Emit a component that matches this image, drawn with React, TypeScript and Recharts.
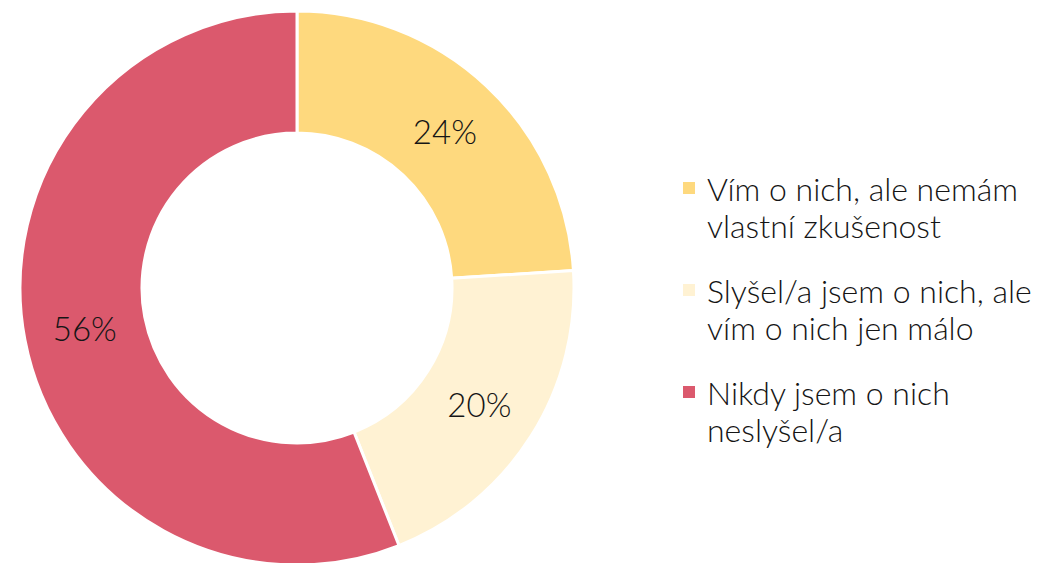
import React from 'react';
import { PieChart, Pie, Cell, Legend } from 'recharts';

const categories = [
  'Vím o nich, ale nemám vlastní zkušenost',
  'Slyšel/a jsem o nich, ale vím o nich jen málo',
  'Nikdy jsem o nich neslyšel/a',
];
const legendLines = [
  ['Vím o nich, ale nemám', 'vlastní zkušenost'],
  ['Slyšel/a jsem o nich, ale', 'vím o nich jen málo'],
  ['Nikdy jsem o nich', 'neslyšel/a'],
];
const values = [24, 20, 56];
const colors = ['#FED97E', '#FFF2D3', '#DB596D'];

const data = categories.map((name, i) => ({ name, value: values[i] }));

const FONT = 'Lato, "Open Sans", sans-serif';
const RAD = Math.PI / 180;

function renderLabel(props: any) {
  const { cx, cy, midAngle, innerRadius, outerRadius, value } = props;
  const r = (innerRadius + outerRadius) / 2;
  const x = cx + r * Math.cos(-midAngle * RAD);
  const y = cy + r * Math.sin(-midAngle * RAD);
  return (
    <text x={x} y={y} fill="#151515" textAnchor="middle" dominantBaseline="central"
      style={{ fontFamily: FONT, fontSize: 33, fontWeight: 300 }}>
      {value}%
    </text>
  );
}

function LegendContent() {
  return (
    <div style={{ fontFamily: FONT, fontSize: 32, fontWeight: 300, color: '#151515', lineHeight: '37px' }}>
      {legendLines.map((lines, i) => (
        <div key={i} style={{ position: 'relative', paddingLeft: 24, marginBottom: i < 2 ? 28 : 0 }}>
          <span style={{
            position: 'absolute', left: 0, top: 12, width: 12, height: 12, background: colors[i],
          }} />
          {lines.map((t, j) => <div key={j} style={{ whiteSpace: 'nowrap' }}>{t}</div>)}
        </div>
      ))}
    </div>
  );
}

export default function App() {
  return (
    <div style={{ position: 'absolute', left: 0, top: 0, width: 1038, height: 563, background: '#fff' }}>
      <PieChart width={1038} height={563} margin={{ top: 0, right: 0, bottom: 0, left: 0 }}>
        <Pie
          data={data}
          dataKey="value"
          nameKey="name"
          cx={297}
          cy={288}
          innerRadius={155}
          outerRadius={277}
          startAngle={90}
          endAngle={-270}
          stroke="#fff"
          strokeWidth={3}
          label={renderLabel}
          labelLine={false}
          isAnimationActive={false}
        >
          {data.map((d, i) => <Cell key={d.name} fill={colors[i]} />)}
        </Pie>
        <Legend
          layout="vertical"
          verticalAlign="top"
          align="right"
          content={<LegendContent />}
          wrapperStyle={{ left: 683, top: 170, width: 355 }}
        />
      </PieChart>
    </div>
  );
}
